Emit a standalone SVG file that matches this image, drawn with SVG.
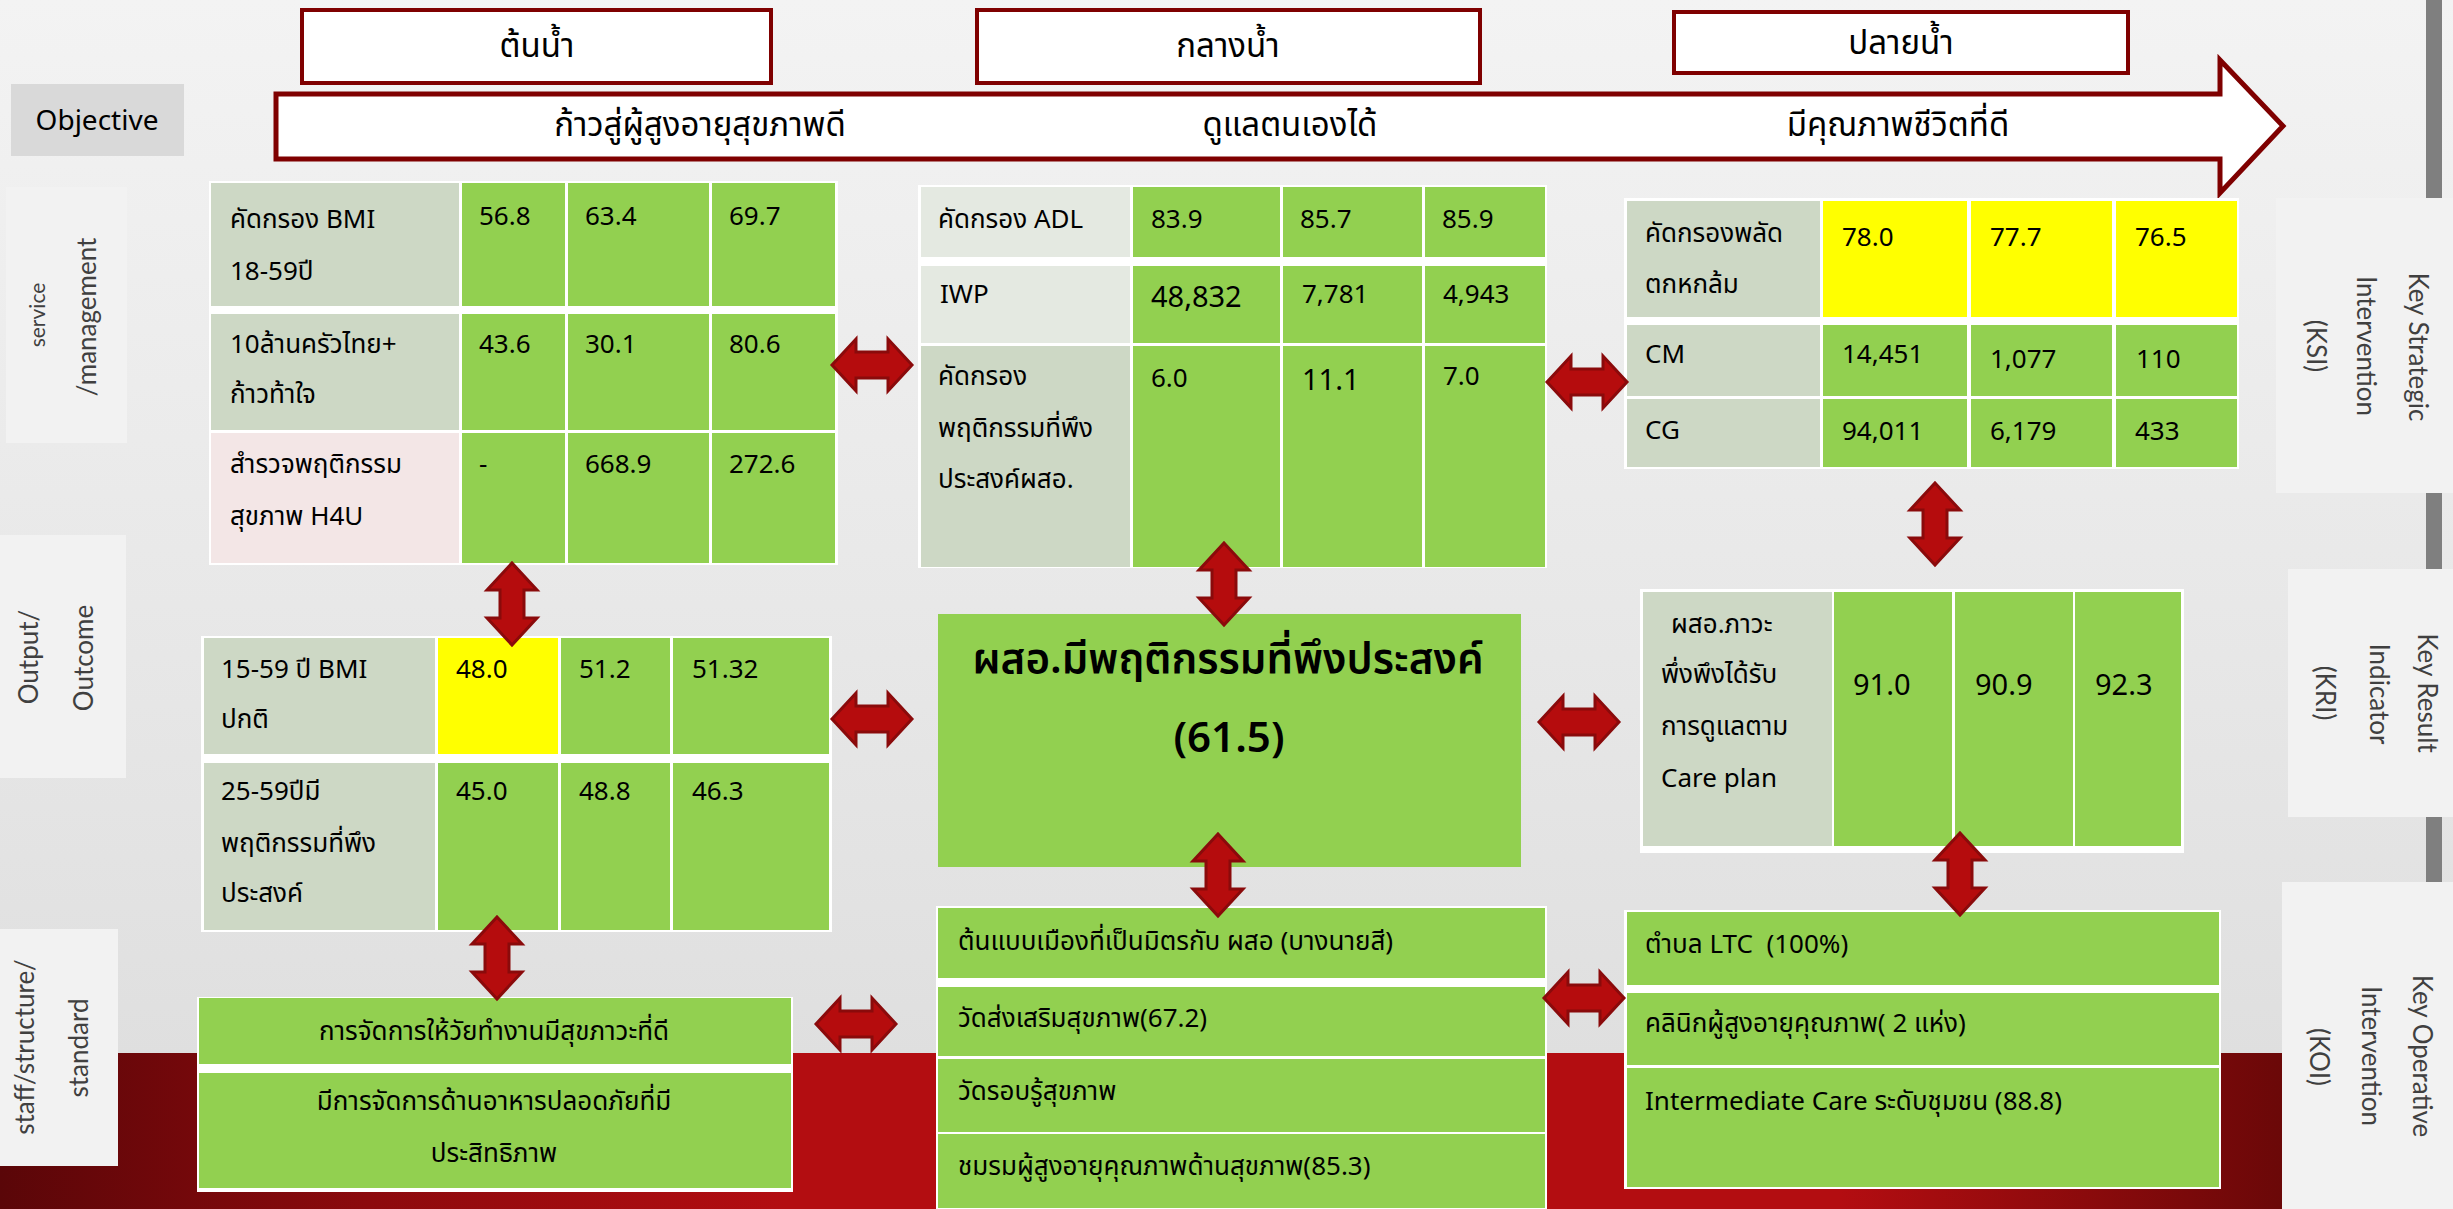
<svg xmlns="http://www.w3.org/2000/svg" xmlns:xlink="http://www.w3.org/1999/xlink" width="2453" height="1209" viewBox="0 0 2453 1209">
<defs>
<linearGradient id="bgG" x1="0" y1="0" x2="0" y2="1">
<stop offset="0" stop-color="#f3f3f3"/>
<stop offset="0.5" stop-color="#e8e8e8"/>
<stop offset="1" stop-color="#dcdcdc"/>
</linearGradient>
<linearGradient id="redG" x1="0" y1="0" x2="1" y2="0">
<stop offset="0" stop-color="#5a0608"/>
<stop offset="0.15" stop-color="#8c0a0d"/>
<stop offset="0.32" stop-color="#b30d11"/>
<stop offset="0.75" stop-color="#b30d11"/>
<stop offset="0.93" stop-color="#6b0808"/>
<stop offset="1" stop-color="#5a0606"/>
</linearGradient>
<path id="ha" d="M0,0 L24,-26 L24,-13 L56,-13 L56,-26 L80,0 L56,26 L56,13 L24,13 L24,26 Z"/>
<path id="va" d="M0,0 L25,27 L12,27 L12,55 L25,55 L0,82 L-25,55 L-12,55 L-12,27 L-25,27 Z"/>
<style>
.tx{font-family:"Noto Sans Thai","Noto Sans","Liberation Sans",sans-serif;font-size:26px;fill:#000}
.big{font-size:42px;font-weight:600}
.num2{font-size:29px}
.ttl{font-family:"Noto Sans Thai","Noto Sans","Liberation Sans",sans-serif;font-size:33px;fill:#000}
.side{fill:#f2f2f2}
.st{font-family:"Lato","Open Sans",sans-serif;font-size:26px;fill:#404040}
.g{fill:#92d050}
.y{fill:#ffff00}
.c1{fill:#cdd8c5}
.c2{fill:#e4e9e1}
.pk{fill:#f3e6e6}
.w{fill:#ffffff}
.hb{fill:#ffffff;stroke:#7f0000;stroke-width:4}
.arr use{fill:#b50c0d;stroke:#8a0a0b;stroke-width:3;stroke-linejoin:miter}
</style>
</defs>

<!-- background -->
<rect x="0" y="0" width="2453" height="1209" fill="url(#bgG)"/>
<rect x="0" y="1053" width="2453" height="156" fill="url(#redG)"/>
<rect x="2426" y="0" width="16" height="1209" fill="#7f7f7f"/>

<!-- header boxes -->
<g id="h-ton">
<rect class="hb" x="302" y="10" width="469" height="73"/>
<text class="ttl" x="537" y="57" text-anchor="middle">ต้นน้ำ</text>
</g>
<g id="h-klang">
<rect class="hb" x="977" y="10" width="503" height="73"/>
<text class="ttl" x="1228" y="57" text-anchor="middle">กลางน้ำ</text>
</g>
<g id="h-plai">
<rect class="hb" x="1674" y="12" width="454" height="61"/>
<text class="ttl" x="1901" y="54" text-anchor="middle">ปลายน้ำ</text>
</g>

<!-- objective -->
<g id="objective-label">
<rect x="11" y="84" width="173" height="72" fill="#d9d9d9"/>
<text class="tx" x="97" y="130" text-anchor="middle" style="font-size:28px">Objective</text>
</g>
<g id="objective-arrow">
<polygon points="276,94 2220,94 2220,60 2283,126 2220,193 2220,159 276,159" fill="#ffffff" stroke="#7f0000" stroke-width="5"/>
<text class="ttl" x="700" y="136" text-anchor="middle">ก้าวสู่ผู้สูงอายุสุขภาพดี</text>
<text class="ttl" x="1290" y="136" text-anchor="middle">ดูแลตนเองได้</text>
<text class="ttl" x="1898" y="136" text-anchor="middle">มีคุณภาพชีวิตที่ดี</text>
</g>

<!-- side labels left -->
<g id="lbl-service">
<rect class="side" x="6" y="187" width="121" height="256"/>
<text class="st" transform="translate(36,315) rotate(-90)" text-anchor="middle" dominant-baseline="central" style="font-size:21px">service</text>
<text class="st" transform="translate(86,317) rotate(-90)" text-anchor="middle" dominant-baseline="central">/management</text>
</g>
<g id="lbl-output">
<rect class="side" x="0" y="535" width="126" height="243"/>
<text class="st" transform="translate(28,657) rotate(-90)" text-anchor="middle" dominant-baseline="central">Output/</text>
<text class="st" transform="translate(83,658) rotate(-90)" text-anchor="middle" dominant-baseline="central">Outcome</text>
</g>
<g id="lbl-staff">
<rect class="side" x="0" y="929" width="118" height="237"/>
<text class="st" transform="translate(24,1047) rotate(-90)" text-anchor="middle" dominant-baseline="central">staff/structure/</text>
<text class="st" transform="translate(78,1048) rotate(-90)" text-anchor="middle" dominant-baseline="central">standard</text>
</g>

<!-- side labels right -->
<g id="lbl-ksi">
<rect class="side" x="2276" y="198" width="177" height="295"/>
<text class="st" transform="translate(2419,347) rotate(90)" text-anchor="middle" dominant-baseline="central">Key Strategic</text>
<text class="st" transform="translate(2367,346) rotate(90)" text-anchor="middle" dominant-baseline="central">Intervention</text>
<text class="st" transform="translate(2317,346) rotate(90)" text-anchor="middle" dominant-baseline="central">(KSI)</text>
</g>
<g id="lbl-kri">
<rect class="side" x="2288" y="569" width="165" height="248"/>
<text class="st" transform="translate(2428,693) rotate(90)" text-anchor="middle" dominant-baseline="central">Key Result</text>
<text class="st" transform="translate(2380,694) rotate(90)" text-anchor="middle" dominant-baseline="central">Indicator</text>
<text class="st" transform="translate(2326,693) rotate(90)" text-anchor="middle" dominant-baseline="central">(KRI)</text>
</g>
<g id="lbl-koi">
<rect class="side" x="2282" y="882" width="171" height="327"/>
<text class="st" transform="translate(2423,1056) rotate(90)" text-anchor="middle" dominant-baseline="central">Key Operative</text>
<text class="st" transform="translate(2372,1056) rotate(90)" text-anchor="middle" dominant-baseline="central">Intervention</text>
<text class="st" transform="translate(2320,1057) rotate(90)" text-anchor="middle" dominant-baseline="central">(KOI)</text>
</g>

<!-- table 1: upstream service -->
<g id="t1">
<rect class="w" x="209" y="181" width="629" height="384"/>
<rect class="c1" x="211" y="183" width="248" height="123"/>
<rect class="g" x="462" y="183" width="103" height="123"/>
<rect class="g" x="568" y="183" width="141" height="123"/>
<rect class="g" x="712" y="183" width="123" height="123"/>
<rect class="c1" x="211" y="314" width="248" height="116"/>
<rect class="g" x="462" y="314" width="103" height="116"/>
<rect class="g" x="568" y="314" width="141" height="116"/>
<rect class="g" x="712" y="314" width="123" height="116"/>
<rect class="pk" x="211" y="433" width="248" height="130"/>
<rect class="g" x="462" y="433" width="103" height="130"/>
<rect class="g" x="568" y="433" width="141" height="130"/>
<rect class="g" x="712" y="433" width="123" height="130"/>
<text class="tx" x="230" y="228">คัดกรอง BMI</text>
<text class="tx" x="230" y="280">18-59ปี</text>
<text class="tx" x="479" y="225">56.8</text>
<text class="tx" x="585" y="225">63.4</text>
<text class="tx" x="729" y="225">69.7</text>
<text class="tx" x="230" y="353">10ล้านครัวไทย+</text>
<text class="tx" x="230" y="403">ก้าวท้าใจ</text>
<text class="tx" x="479" y="353">43.6</text>
<text class="tx" x="585" y="353">30.1</text>
<text class="tx" x="729" y="353">80.6</text>
<text class="tx" x="230" y="473">สำรวจพฤติกรรม</text>
<text class="tx" x="230" y="525">สุขภาพ H4U</text>
<text class="tx" x="479" y="473">-</text>
<text class="tx" x="585" y="473">668.9</text>
<text class="tx" x="729" y="473">272.6</text>
</g>

<!-- table 2: midstream service -->
<g id="t2">
<rect class="w" x="918" y="185" width="629" height="383"/>
<rect class="c2" x="921" y="187" width="209" height="70"/>
<rect class="g" x="1133" y="187" width="147" height="70"/>
<rect class="g" x="1283" y="187" width="139" height="70"/>
<rect class="g" x="1425" y="187" width="120" height="70"/>
<rect class="c2" x="921" y="266" width="209" height="77"/>
<rect class="g" x="1133" y="266" width="147" height="77"/>
<rect class="g" x="1283" y="266" width="139" height="77"/>
<rect class="g" x="1425" y="266" width="120" height="77"/>
<rect class="c1" x="921" y="346" width="209" height="221"/>
<rect class="g" x="1133" y="346" width="147" height="221"/>
<rect class="g" x="1283" y="346" width="139" height="221"/>
<rect class="g" x="1425" y="346" width="120" height="221"/>
<text class="tx" x="938" y="228">คัดกรอง ADL</text>
<text class="tx" x="1151" y="228">83.9</text>
<text class="tx" x="1300" y="228">85.7</text>
<text class="tx" x="1442" y="228">85.9</text>
<text class="tx" x="940" y="303">IWP</text>
<text class="tx num2" x="1151" y="307">48,832</text>
<text class="tx" x="1302" y="303">7,781</text>
<text class="tx" x="1443" y="303">4,943</text>
<text class="tx" x="938" y="385">คัดกรอง</text>
<text class="tx" x="938" y="437">พฤติกรรมที่พึง</text>
<text class="tx" x="938" y="488">ประสงค์ผสอ.</text>
<text class="tx" x="1151" y="387">6.0</text>
<text class="tx num2" x="1302" y="390">11.1</text>
<text class="tx" x="1443" y="385">7.0</text>
</g>

<!-- table 3: downstream service -->
<g id="t3">
<rect class="w" x="1624" y="198" width="615" height="271"/>
<rect class="c1" x="1627" y="201" width="193" height="116"/>
<rect class="y" x="1823" y="201" width="144" height="116"/>
<rect class="y" x="1971" y="201" width="141" height="116"/>
<rect class="y" x="2116" y="201" width="121" height="116"/>
<rect class="c1" x="1627" y="325" width="193" height="71"/>
<rect class="g" x="1823" y="325" width="144" height="71"/>
<rect class="g" x="1971" y="325" width="141" height="71"/>
<rect class="g" x="2116" y="325" width="121" height="71"/>
<rect class="c1" x="1627" y="399" width="193" height="68"/>
<rect class="g" x="1823" y="399" width="144" height="68"/>
<rect class="g" x="1971" y="399" width="141" height="68"/>
<rect class="g" x="2116" y="399" width="121" height="68"/>
<text class="tx" x="1645" y="242">คัดกรองพลัด</text>
<text class="tx" x="1645" y="293">ตกหกล้ม</text>
<text class="tx" x="1842" y="246">78.0</text>
<text class="tx" x="1990" y="246">77.7</text>
<text class="tx" x="2135" y="246">76.5</text>
<text class="tx" x="1645" y="363">CM</text>
<text class="tx" x="1842" y="363">14,451</text>
<text class="tx" x="1990" y="368">1,077</text>
<text class="tx" x="2136" y="368">110</text>
<text class="tx" x="1645" y="439">CG</text>
<text class="tx" x="1842" y="440">94,011</text>
<text class="tx" x="1990" y="440">6,179</text>
<text class="tx" x="2135" y="440">433</text>
</g>

<!-- table 4: upstream outcome -->
<g id="t4">
<rect class="w" x="201" y="636" width="631" height="296"/>
<rect class="c1" x="204" y="638" width="231" height="116"/>
<rect class="y" x="438" y="638" width="120" height="116"/>
<rect class="g" x="561" y="638" width="109" height="116"/>
<rect class="g" x="673" y="638" width="156" height="116"/>
<rect class="c1" x="204" y="763" width="231" height="167"/>
<rect class="g" x="438" y="763" width="120" height="167"/>
<rect class="g" x="561" y="763" width="109" height="167"/>
<rect class="g" x="673" y="763" width="156" height="167"/>
<text class="tx" x="221" y="678">15-59 ปี BMI</text>
<text class="tx" x="221" y="728">ปกติ</text>
<text class="tx" x="456" y="678">48.0</text>
<text class="tx" x="579" y="678">51.2</text>
<text class="tx" x="692" y="678">51.32</text>
<text class="tx" x="221" y="800">25-59ปีมี</text>
<text class="tx" x="221" y="852">พฤติกรรมที่พึง</text>
<text class="tx" x="221" y="902">ประสงค์</text>
<text class="tx" x="456" y="800">45.0</text>
<text class="tx" x="579" y="800">48.8</text>
<text class="tx" x="692" y="800">46.3</text>
</g>

<!-- central outcome -->
<g id="central">
<rect class="g" x="938" y="614" width="583" height="253"/>
<text class="tx big" x="1228" y="673" text-anchor="middle">ผสอ.มีพฤติกรรมที่พึงประสงค์</text>
<text class="tx big" x="1229" y="752" text-anchor="middle">(61.5)</text>
</g>

<!-- table 5: downstream outcome -->
<g id="t5">
<rect class="w" x="1640" y="589" width="544" height="264"/>
<rect class="c1" x="1643" y="592" width="189" height="254"/>
<rect class="g" x="1834" y="592" width="118" height="254"/>
<rect class="g" x="1955" y="592" width="118" height="254"/>
<rect class="g" x="2075" y="592" width="106" height="254"/>
<text class="tx" x="1671" y="633">ผสอ.ภาวะ</text>
<text class="tx" x="1661" y="683">พึ่งพึงได้รับ</text>
<text class="tx" x="1661" y="735">การดูแลตาม</text>
<text class="tx" x="1661" y="787">Care plan</text>
<text class="tx num2" x="1853" y="695">91.0</text>
<text class="tx num2" x="1975" y="695">90.9</text>
<text class="tx num2" x="2095" y="695">92.3</text>
</g>

<!-- staff upstream -->
<g id="s1">
<rect class="w" x="197" y="997" width="596" height="195"/>
<rect class="g" x="199" y="998" width="592" height="66"/>
<rect class="g" x="199" y="1073" width="592" height="115"/>
<text class="tx" x="494" y="1040" text-anchor="middle">การจัดการให้วัยทำงานมีสุขภาวะที่ดี</text>
<text class="tx" x="494" y="1110" text-anchor="middle">มีการจัดการด้านอาหารปลอดภัยที่มี</text>
<text class="tx" x="494" y="1162" text-anchor="middle">ประสิทธิภาพ</text>
</g>

<!-- staff midstream -->
<g id="s2">
<rect class="w" x="936" y="906" width="611" height="303"/>
<rect class="g" x="938" y="908" width="607" height="70"/>
<rect class="g" x="938" y="987" width="607" height="69"/>
<rect class="g" x="938" y="1059" width="607" height="73"/>
<rect class="g" x="938" y="1134" width="607" height="74"/>
<text class="tx" x="958" y="950">ต้นแบบเมืองที่เป็นมิตรกับ ผสอ (บางนายสี)</text>
<text class="tx" x="958" y="1027">วัดส่งเสริมสุขภาพ(67.2)</text>
<text class="tx" x="958" y="1100">วัดรอบรู้สุขภาพ</text>
<text class="tx" x="958" y="1175">ชมรมผู้สูงอายุคุณภาพด้านสุขภาพ(85.3)</text>
</g>

<!-- staff downstream -->
<g id="s3">
<rect class="w" x="1624" y="910" width="597" height="279"/>
<rect class="g" x="1627" y="912" width="592" height="73"/>
<rect class="g" x="1627" y="993" width="592" height="72"/>
<rect class="g" x="1627" y="1068" width="592" height="119"/>
<text class="tx" x="1645" y="953" xml:space="preserve">ตำบล LTC  (100%)</text>
<text class="tx" x="1645" y="1032">คลินิกผู้สูงอายุคุณภาพ( 2 แห่ง)</text>
<text class="tx" x="1645" y="1110">Intermediate Care ระดับชุมชน (88.8)</text>
</g>

<!-- connectors -->
<g id="connectors" class="arr">
<use xlink:href="#ha" transform="translate(832,365)"/>
<use xlink:href="#ha" transform="translate(1547,382)"/>
<use xlink:href="#va" transform="translate(512,563)"/>
<use xlink:href="#va" transform="translate(1224,543)"/>
<use xlink:href="#va" transform="translate(1935,483)"/>
<use xlink:href="#ha" transform="translate(832,719)"/>
<use xlink:href="#ha" transform="translate(1539,722)"/>
<use xlink:href="#va" transform="translate(1218,834)"/>
<use xlink:href="#va" transform="translate(1960,833)"/>
<use xlink:href="#va" transform="translate(497,917)"/>
<use xlink:href="#ha" transform="translate(816,1024)"/>
<use xlink:href="#ha" transform="translate(1544,998)"/>
</g>
</svg>
